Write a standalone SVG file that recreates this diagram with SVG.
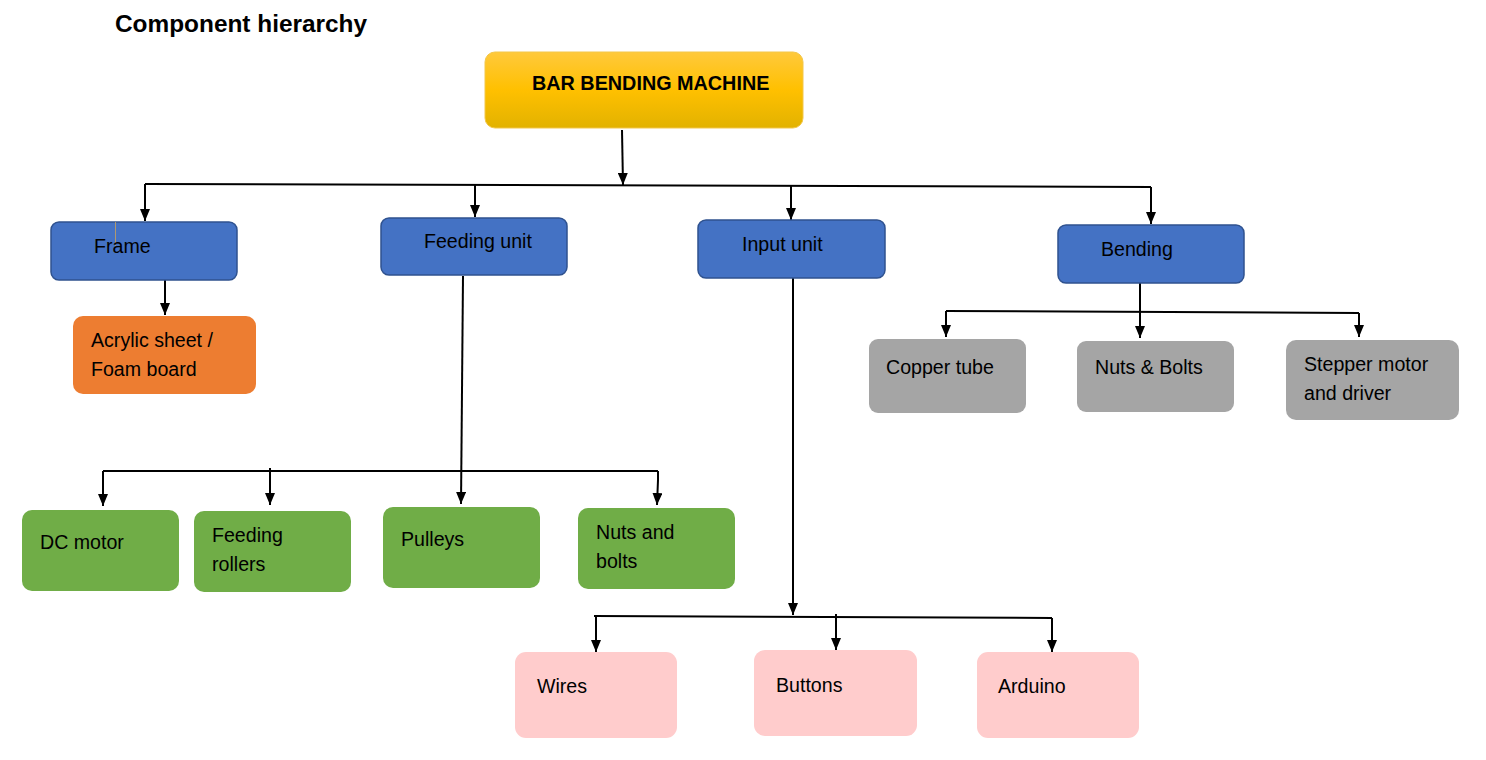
<svg xmlns="http://www.w3.org/2000/svg" width="1486" height="760" viewBox="0 0 1486 760">
<style>
  text { font-family: "Liberation Sans", Arial, sans-serif; font-size: 19.6px; fill: #000; }
  .title { font-size: 24.4px; font-weight: bold; }
  .bold { font-weight: bold; font-size: 19.8px; }
  .blue { fill: #4472c4; stroke: #2f528f; stroke-width: 1.5; }
  .orange { fill: #ed7d31; }
  .green { fill: #70ad47; }
  .pink { fill: #ffcccc; }
  .gray { fill: #a5a5a5; }
  .conn line, .conn polyline { stroke: #000; stroke-width: 2; fill: none; }
</style>
<defs>
  <linearGradient id="gold" x1="0" y1="0" x2="0" y2="1">
    <stop offset="0" stop-color="#ffc93c"/>
    <stop offset="0.5" stop-color="#ffc000"/>
    <stop offset="1" stop-color="#e2b200"/>
  </linearGradient>
  <marker id="arr" viewBox="0 0 12 10" refX="12" refY="5" markerWidth="12" markerHeight="10" markerUnits="userSpaceOnUse" orient="auto">
    <path d="M0,0 L12,5 L0,10 z" fill="#000"/>
  </marker>
</defs>
<rect width="1486" height="760" fill="#fff"/>
<text class="title" x="115" y="32">Component hierarchy</text>

<g class="conn" id="connectors">
  <line x1="622" y1="130" x2="623" y2="185" marker-end="url(#arr)"/>
  <line x1="145" y1="184" x2="1151" y2="187"/>
  <line x1="145" y1="184" x2="145" y2="221" marker-end="url(#arr)"/>
  <line x1="475" y1="185" x2="475" y2="217" marker-end="url(#arr)"/>
  <line x1="791" y1="186" x2="791" y2="220" marker-end="url(#arr)"/>
  <line x1="1151" y1="187" x2="1151" y2="224" marker-end="url(#arr)"/>
  <line x1="165" y1="280" x2="165" y2="315" marker-end="url(#arr)"/>
  <line x1="463" y1="276" x2="461" y2="504" marker-end="url(#arr)"/>
  <line x1="103" y1="471" x2="658" y2="471"/>
  <line x1="103" y1="471" x2="103" y2="506" marker-end="url(#arr)"/>
  <line x1="270" y1="468" x2="270" y2="505" marker-end="url(#arr)"/>
  <polyline points="658,471 658,480 657,505" marker-end="url(#arr)"/>
  <line x1="793" y1="278" x2="793" y2="615" marker-end="url(#arr)"/>
  <line x1="594" y1="616" x2="1052" y2="618"/>
  <line x1="596" y1="616" x2="596" y2="652" marker-end="url(#arr)"/>
  <line x1="836" y1="614" x2="836" y2="650" marker-end="url(#arr)"/>
  <line x1="1052" y1="618" x2="1052" y2="652" marker-end="url(#arr)"/>
  <line x1="1140" y1="283" x2="1140" y2="338" marker-end="url(#arr)"/>
  <line x1="946" y1="311" x2="1359" y2="313"/>
  <line x1="946" y1="311" x2="946" y2="337" marker-end="url(#arr)"/>
  <line x1="1359" y1="313" x2="1359" y2="337" marker-end="url(#arr)"/>
</g>

<g id="bar-bending-machine">
  <rect x="485" y="52" width="318" height="76" rx="10" fill="url(#gold)" stroke="#f3c74a" stroke-width="1"/>
  <text class="bold" x="532" y="90">BAR BENDING MACHINE</text>
</g>

<g id="frame">
  <rect class="blue" x="51" y="222" width="186" height="58" rx="8"/>
  <line x1="115.5" y1="222" x2="115.5" y2="246" stroke="#c9a25a" stroke-width="0.8"/>
  <text x="94" y="253">Frame</text>
</g>
<g id="feeding-unit">
  <rect class="blue" x="381" y="218" width="186" height="57" rx="8"/>
  <text x="424" y="248">Feeding unit</text>
</g>
<g id="input-unit">
  <rect class="blue" x="698" y="220" width="187" height="58" rx="8"/>
  <text x="742" y="251">Input unit</text>
</g>
<g id="bending">
  <rect class="blue" x="1058" y="225" width="186" height="58" rx="8"/>
  <text x="1101" y="256">Bending</text>
</g>

<g id="acrylic-sheet">
  <rect class="orange" x="73" y="316" width="183" height="78" rx="10"/>
  <text x="91" y="347">Acrylic sheet /</text>
  <text x="91" y="376">Foam board</text>
</g>

<g id="dc-motor">
  <rect class="green" x="22" y="510" width="157" height="81" rx="10"/>
  <text x="40" y="549">DC motor</text>
</g>
<g id="feeding-rollers">
  <rect class="green" x="194" y="511" width="157" height="81" rx="10"/>
  <text x="212" y="542">Feeding</text>
  <text x="212" y="571">rollers</text>
</g>
<g id="pulleys">
  <rect class="green" x="383" y="507" width="157" height="81" rx="10"/>
  <text x="401" y="546">Pulleys</text>
</g>
<g id="nuts-and-bolts">
  <rect class="green" x="578" y="508" width="157" height="81" rx="10"/>
  <text x="596" y="539">Nuts and</text>
  <text x="596" y="568">bolts</text>
</g>

<g id="wires">
  <rect class="pink" x="515" y="652" width="162" height="86" rx="11"/>
  <text x="537" y="693">Wires</text>
</g>
<g id="buttons">
  <rect class="pink" x="754" y="650" width="163" height="86" rx="11"/>
  <text x="776" y="692">Buttons</text>
</g>
<g id="arduino">
  <rect class="pink" x="977" y="652" width="162" height="86" rx="11"/>
  <text x="998" y="693">Arduino</text>
</g>

<g id="copper-tube">
  <rect class="gray" x="869" y="339" width="157" height="74" rx="9"/>
  <text x="886" y="374">Copper tube</text>
</g>
<g id="nuts-bolts">
  <rect class="gray" x="1077" y="341" width="157" height="71" rx="9"/>
  <text x="1095" y="374">Nuts &amp; Bolts</text>
</g>
<g id="stepper-motor">
  <rect class="gray" x="1286" y="340" width="173" height="80" rx="10"/>
  <text x="1304" y="371">Stepper motor</text>
  <text x="1304" y="400">and driver</text>
</g>
</svg>
